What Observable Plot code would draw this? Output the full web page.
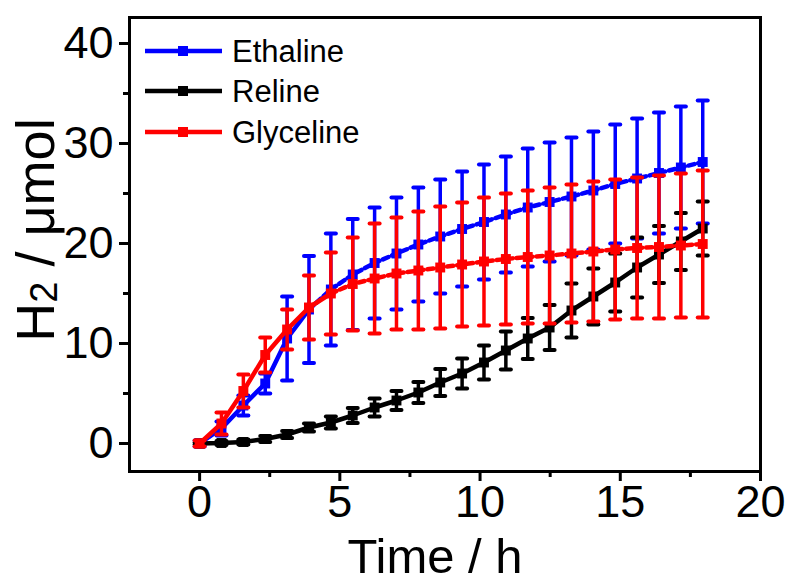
<!DOCTYPE html>
<html><head><meta charset="utf-8">
<script src="https://cdn.jsdelivr.net/npm/d3@7"></script>
<script src="https://cdn.jsdelivr.net/npm/@observablehq/plot@0.6"></script>
<style>
body{margin:0;background:#fff;}
#wrap{position:relative;width:788px;height:582px;}
</style></head><body><div id="wrap"></div>
<script>
// Sampling times (h)
const time = [0, 0.78, 1.56, 2.34, 3.12, 3.9, 4.68, 5.46, 6.24, 7.02, 7.8, 8.58, 9.36, 10.14, 10.92, 11.7, 12.48, 13.26, 14.04, 14.82, 15.6, 16.38, 17.16, 17.94];

// Ethaline H2 (µmol) and error
const ethalineMean = [0, 1.5, 3.8, 6.0, 10.5, 13.4, 15.4, 16.9, 18.05, 19.0, 19.9, 20.7, 21.45, 22.15, 22.9, 23.6, 24.15, 24.7, 25.3, 25.95, 26.5, 27.05, 27.6, 28.15];
const ethalineErr  = [0.3, 0.7, 1.0, 1.0, 4.2, 5.35, 5.6, 5.55, 5.55, 5.6, 5.7, 5.7, 5.75, 5.75, 5.8, 5.9, 5.95, 5.9, 5.9, 5.95, 6.0, 6.05, 6.1, 6.15];

// Reline
const relineMean = [0, 0.05, 0.15, 0.45, 0.9, 1.6, 2.1, 2.8, 3.6, 4.3, 5.1, 6.1, 7.0, 8.1, 9.3, 10.5, 11.6, 13.3, 14.7, 16.1, 17.6, 18.9, 20.2, 21.5];
const relineErr  = [0.1, 0.2, 0.25, 0.3, 0.35, 0.4, 0.6, 0.75, 0.9, 0.95, 1.05, 1.35, 1.5, 1.7, 1.9, 2.05, 2.25, 2.7, 2.8, 2.9, 3.0, 2.85, 2.85, 2.7];

// Glyceline
const glycelineMean = [0, 2.0, 5.25, 8.85, 11.4, 13.6, 15.0, 15.95, 16.5, 17.0, 17.3, 17.6, 17.9, 18.2, 18.45, 18.65, 18.8, 19.0, 19.2, 19.4, 19.55, 19.65, 19.8, 19.95];
const glycelineErr  = [0.3, 1.1, 1.65, 1.75, 2.0, 3.2, 4.1, 4.65, 5.5, 5.6, 5.9, 6.1, 6.2, 6.4, 6.55, 6.65, 6.8, 6.9, 7.0, 7.0, 7.05, 7.15, 7.2, 7.35];

// Axis ticks
const xMajor = [0, 5, 10, 15, 20];
const xMinor = [2.5, 7.5, 12.5, 17.5];
const yMajor = [0, 10, 20, 30, 40];
const yMinor = [5, 15, 25, 35];

const seriesNames = ["Ethaline", "Reline", "Glyceline"];
const seriesColors = ["#0000ff", "#000000", "#ff0000"];
const seriesMeans = [ethalineMean, relineMean, glycelineMean];
const seriesErrs = [ethalineErr, relineErr, glycelineErr];
const dashFromIndex = [5, 99, 6];

const FONT = "'Liberation Sans', Arial, sans-serif";

const capSymbol = {
  draw(context, size) {
    const w = Math.sqrt(size / Math.PI);
    context.moveTo(-w, 0);
    context.lineTo(w, 0);
  }
};

const marks = [];
seriesNames.forEach((name, s) => {
  const color = seriesColors[s];
  const rows = time.map((t, i) => ({
    series: name, i, t,
    v: seriesMeans[s][i],
    lo: seriesMeans[s][i] - seriesErrs[s][i],
    hi: seriesMeans[s][i] + seriesErrs[s][i]
  }));
  const df = dashFromIndex[s];
  marks.push(Plot.line(rows.filter(d => d.i <= df), {x: "t", y: "v", stroke: color, strokeWidth: 4.5}));
  if (df < rows.length) {
    marks.push(Plot.line(rows.filter(d => d.i >= df), {x: "t", y: "v", stroke: color, strokeWidth: 4.5, strokeDasharray: "6,4"}));
  }
  marks.push(Plot.ruleX(rows, {x: "t", y1: "lo", y2: "hi", stroke: color, strokeWidth: 3.5}));
  marks.push(Plot.dot(rows, {x: "t", y: "hi", symbol: capSymbol, r: 5, fill: "none", stroke: color, strokeWidth: 4, strokeLinecap: "round"}));
  marks.push(Plot.dot(rows, {x: "t", y: "lo", symbol: capSymbol, r: 5, fill: "none", stroke: color, strokeWidth: 4, strokeLinecap: "round"}));
  marks.push(Plot.dot(rows, {x: "t", y: "v", symbol: "square", r: 5.6, fill: color, stroke: "none"}));
});

const chart = Plot.plot({
  width: 788,
  height: 582,
  marginLeft: 129,
  marginRight: 28,
  marginTop: 17,
  marginBottom: 111,
  style: {fontFamily: FONT, fontSize: "45px", color: "black", background: "white"},
  x: {domain: [-2.5, 20], label: null},
  y: {domain: [-2.8, 42.6], label: null},
  marks: [
    Plot.axisX({ticks: xMajor, tickSize: 10, tickPadding: 4, strokeWidth: 3, label: null, tickFormat: d => String(d)}),
    Plot.axisX({ticks: xMinor, tickSize: 6, strokeWidth: 3, label: null, tickFormat: () => ""}),
    Plot.axisY({ticks: yMajor, tickSize: 10, tickPadding: 6, strokeWidth: 3, label: null, tickFormat: d => String(d)}),
    Plot.axisY({ticks: yMinor, tickSize: 6, strokeWidth: 3, label: null, tickFormat: () => ""}),
    ...marks,
    Plot.frame({stroke: "black", strokeWidth: 3})
  ]
});

document.getElementById("wrap").appendChild(chart);

const svg = d3.select(chart);
// Axis titles
svg.append("text")
  .attr("x", 435).attr("y", 573)
  .attr("text-anchor", "middle")
  .attr("font-family", FONT).attr("font-size", 49).attr("fill", "black")
  .text("Time / h");

const yt = svg.append("text")
  .attr("transform", "translate(54,230) rotate(-90)")
  .attr("text-anchor", "middle")
  .attr("font-family", FONT).attr("font-size", 54).attr("fill", "black");
yt.append("tspan").text("H");
yt.append("tspan").attr("font-size", 38).attr("dy", 3).text("2");
yt.append("tspan").attr("dy", -3).text(" / \u03bcmol");

// Legend
const lg = svg.append("g");
const legendY = [51, 91, 132];
seriesNames.forEach((name, s) => {
  const y = legendY[s];
  lg.append("line").attr("x1", 145).attr("x2", 222).attr("y1", y).attr("y2", y)
    .attr("stroke", seriesColors[s]).attr("stroke-width", 4.5);
  lg.append("rect").attr("x", 178).attr("y", y - 5).attr("width", 10).attr("height", 10)
    .attr("fill", seriesColors[s]);
  lg.append("text").attr("x", 232).attr("y", y).attr("dy", "0.36em")
    .attr("text-anchor", "start")
    .attr("font-family", FONT).attr("font-size", 31).attr("fill", "black")
    .text(name);
});
</script></body></html>
